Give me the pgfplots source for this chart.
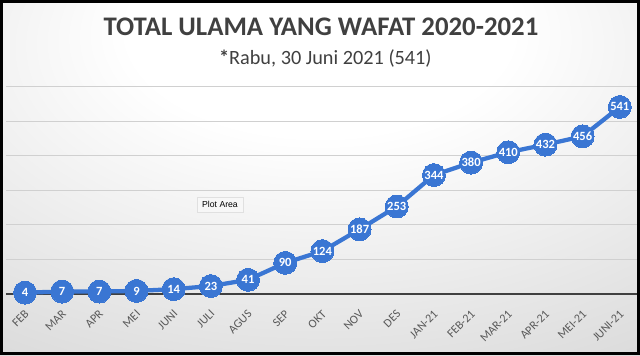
\documentclass[border=0pt]{standalone}
\usepackage{pgfplots}
\pgfplotsset{compat=1.18}
\usepackage{fontspec}
\setmainfont{Carlito}
\newfontfamily\tipfont{Liberation Sans}
\usetikzlibrary{shadows}
\definecolor{ptblue}{HTML}{3A76D3}
\definecolor{txtgray}{HTML}{404040}
\definecolor{lblgray}{HTML}{595959}
\definecolor{gridgray}{HTML}{D0D0D0}
\pgfdeclareradialshading{bgshade}{\pgfpoint{0bp}{25bp}}{color(0bp)=(white); color(15bp)=(white); color(45bp)=(black!14); color(90bp)=(black!22)}
\begin{document}
\begin{tikzpicture}
\useasboundingbox (0pt,0pt) rectangle (480pt,266.25pt);
\shade[shading=bgshade] (0pt,0pt) rectangle (480pt,266.25pt);
\node[anchor=base, text=txtgray, font=\bfseries\fontsize{20.1}{24}\selectfont] at (240.75pt,239.5pt) {TOTAL ULAMA YANG WAFAT 2020-2021};
\node[anchor=base, text=txtgray, font=\fontsize{15.2}{18}\selectfont] at (244pt,218.25pt) {\textbf{*}Rabu, 30 Juni 2021 (541)};
\begin{axis}[
  at={(4.8pt,45.75pt)}, anchor=south west,
  scale only axis, width=474pt, height=155.6pt,
  xmin=-0.5, xmax=16.5, ymin=0, ymax=600,
  clip=false,
  axis line style={draw=none},
  major tick length=0pt,
  ytick={100,200,...,600}, yticklabels={},
  extra y ticks={0}, extra y tick labels={},
  extra y tick style={grid style={draw=txtgray, line width=2pt}},
  ymajorgrids, grid style={draw=gridgray, line width=0.7pt},
  xtick={0,...,16},
  xticklabels={FEB,MAR,APR,MEI,JUNI,JULI,AGUS,SEP,OKT,NOV,DES,JAN-21,FEB-21,MAR-21,APR-21,MEI-21,JUNI-21},
  xticklabel style={rotate=45, anchor=north east, inner sep=0pt, xshift=-8.48pt, yshift=-7.42pt, text=lblgray, font=\fontsize{9}{10}\selectfont},
  /pgf/number format/assume math mode=true,
]
\addplot[ptblue, line width=3.2pt, mark=*, mark size=8.6pt,
  mark options={fill=ptblue, draw=ptblue, line width=0pt},
  nodes near coords, point meta=y,
  every node near coord/.append style={anchor=center, text=white, inner sep=0pt, font=\bfseries\fontsize{9.4}{10}\selectfont}]
coordinates {(0,4) (1,7) (2,7) (3,9) (4,14) (5,23) (6,41) (7,90) (8,124) (9,187) (10,253) (11,344) (12,380) (13,410) (14,432) (15,456) (16,541)};
\end{axis}
\node[fill=black!3, draw=black!12, drop shadow={opacity=0.2, shadow xshift=0.6pt, shadow yshift=-0.6pt}, font=\tipfont\fontsize{6.5}{8}\selectfont, inner xsep=4pt, minimum height=11pt] at (165pt,112.9pt) {Plot Area};
\draw[line width=2.25pt] (1.125pt,1.125pt) rectangle (478.875pt,265.125pt);
\end{tikzpicture}
\end{document}
